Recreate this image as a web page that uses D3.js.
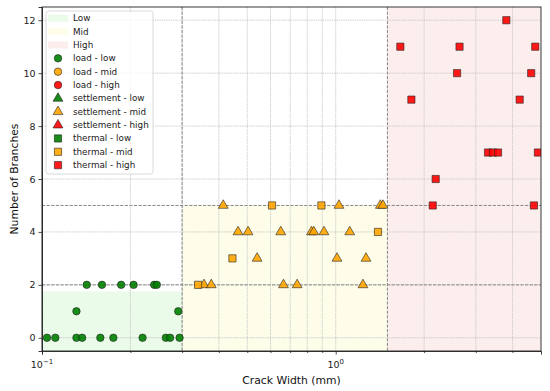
<!DOCTYPE html>
<html>
<head>
<meta charset="utf-8">
<script src="https://cdn.jsdelivr.net/npm/d3@7"></script>
<style>
  body { margin: 0; background: #fff; }
  svg { display: block; font-family: "DejaVu Sans", sans-serif; }
</style>
</head>
<body>
<svg id="chart" width="550" height="391"></svg>
<script>
// crack widths (mm) and branch counts
var loadLowX = [0.104, 0.111, 0.131, 0.137, 0.158, 0.175, 0.220, 0.264, 0.273, 0.294,
                0.131, 0.291,
                0.142, 0.160, 0.186, 0.205, 0.241, 0.246];
var loadLowY = [0, 0, 0, 0, 0, 0, 0, 0, 0, 0,
                1, 1,
                2, 2, 2, 2, 2, 2];

var settlementMidX = [0.414, 1.026, 1.419, 1.448,
                      0.465, 0.503, 0.650, 0.827, 0.842, 0.912, 1.116,
                      0.540, 1.010, 1.268,
                      0.356, 0.377, 0.664, 0.739, 1.238];
var settlementMidY = [5, 5, 5, 5,
                      4, 4, 4, 4, 4, 4, 4,
                      3, 3, 3,
                      2, 2, 2, 2, 2];

var thermalMidX = [0.607, 0.894, 1.393, 0.445, 0.340];
var thermalMidY = [5, 5, 4, 3, 2];

var thermalHighX = [3.81, 1.66, 2.64, 4.78, 2.59, 4.63, 1.81, 4.23,
                    3.30, 3.43, 3.57, 4.88, 2.19, 2.14, 4.73];
var thermalHighY = [12, 11, 11, 11, 10, 10, 9, 9,
                    7, 7, 7, 7, 6, 5, 5];

var emptyX = [], emptyY = [];

// zones: name, x range, top of band
var zoneNames = ["Low", "Mid", "High"];
var zoneX0 = [0.1, 0.3, 1.5];
var zoneX1 = [0.3, 1.5, 5];
var zoneTop = [1.75, 5, 12.5];
var zoneColors = ["#eafbea", "#fdfdea", "#fdeeee"];

var thresholdX = [0.3, 1.5];
var thresholdY = [2, 5];

var yTicks = [0, 2, 4, 6, 8, 10, 12];
var xMajor = [0.1, 1];
var xMajorExp = ["\u22121", "0"];
var xMinor = [0.2, 0.3, 0.4, 0.5, 0.6, 0.7, 0.8, 0.9, 2, 3, 4];

var series = [
    {label: "load - low", shape: d3.symbolCircle, color: "green", xs: loadLowX, ys: loadLowY},
    {label: "load - mid", shape: d3.symbolCircle, color: "orange", xs: emptyX, ys: emptyY},
    {label: "load - high", shape: d3.symbolCircle, color: "red", xs: emptyX, ys: emptyY},
    {label: "settlement - low", shape: d3.symbolTriangle, color: "green", xs: emptyX, ys: emptyY},
    {label: "settlement - mid", shape: d3.symbolTriangle, color: "orange", xs: settlementMidX, ys: settlementMidY},
    {label: "settlement - high", shape: d3.symbolTriangle, color: "red", xs: emptyX, ys: emptyY},
    {label: "thermal - low", shape: d3.symbolSquare, color: "green", xs: emptyX, ys: emptyY},
    {label: "thermal - mid", shape: d3.symbolSquare, color: "orange", xs: thermalMidX, ys: thermalMidY},
    {label: "thermal - high", shape: d3.symbolSquare, color: "red", xs: thermalHighX, ys: thermalHighY}
];

function symbolSize(shape) {
    if (shape === d3.symbolCircle) return 44;
    if (shape === d3.symbolSquare) return 52;
    return 42;
}

var svg = d3.select("#chart");
var margin = {top: 7, right: 9, bottom: 40, left: 42};
var width = 550 - margin.left - margin.right,
    height = 391 - margin.top - margin.bottom;

var x = d3.scaleLog().domain([0.1, 5]).range([0, width]);
var y = d3.scaleLinear().domain([-0.5, 12.5]).range([height, 0]);

var g = svg.append("g").attr("transform", "translate(" + margin.left + "," + margin.top + ")");

svg.append("defs").append("clipPath").attr("id", "plotclip")
    .append("rect").attr("width", width).attr("height", height);

// zone bands
g.selectAll("rect.zone")
    .data(zoneNames)
    .enter().append("rect")
    .attr("class", "zone")
    .attr("x", function (d, i) { return x(zoneX0[i]); })
    .attr("width", function (d, i) { return x(zoneX1[i]) - x(zoneX0[i]); })
    .attr("y", function (d, i) { return y(zoneTop[i]); })
    .attr("height", function (d, i) { return height - y(zoneTop[i]); })
    .attr("fill", function (d, i) { return zoneColors[i]; });

// grid, major and minor (faint, dotted)
g.append("g").selectAll("line")
    .data(xMajor.concat(xMinor))
    .enter().append("line")
    .attr("x1", function (d) { return x(d); })
    .attr("x2", function (d) { return x(d); })
    .attr("y1", 0).attr("y2", height)
    .attr("stroke", "#c4c4c4").attr("stroke-width", 0.8)
    .attr("stroke-dasharray", "1.5,0.8");

g.append("g").selectAll("line")
    .data(yTicks)
    .enter().append("line")
    .attr("x1", 0).attr("x2", width)
    .attr("y1", function (d) { return y(d); })
    .attr("y2", function (d) { return y(d); })
    .attr("stroke", "#c4c4c4").attr("stroke-width", 0.8)
    .attr("stroke-dasharray", "1.5,0.8");

// threshold lines
g.append("g").selectAll("line")
    .data(thresholdX)
    .enter().append("line")
    .attr("x1", function (d) { return x(d); })
    .attr("x2", function (d) { return x(d); })
    .attr("y1", 0).attr("y2", height)
    .attr("stroke", "#888").attr("stroke-width", 1)
    .attr("stroke-dasharray", "3.2,1.4");

g.append("g").selectAll("line")
    .data(thresholdY)
    .enter().append("line")
    .attr("x1", 0).attr("x2", width)
    .attr("y1", function (d) { return y(d); })
    .attr("y2", function (d) { return y(d); })
    .attr("stroke", "#888").attr("stroke-width", 1)
    .attr("stroke-dasharray", "3.2,1.4");

// points
var pts = g.append("g").attr("clip-path", "url(#plotclip)");
series.forEach(function (s) {
    var sym = d3.symbol().type(s.shape).size(symbolSize(s.shape));
    pts.selectAll(null)
        .data(s.xs.map(function (v, i) { return {x: v, y: s.ys[i]}; }))
        .enter().append("path")
        .attr("d", sym)
        .attr("transform", function (d) { return "translate(" + x(d.x) + "," + y(d.y) + ")"; })
        .attr("fill", s.color)
        .attr("fill-opacity", 0.9)
        .attr("stroke", "#222")
        .attr("stroke-width", 0.6);
});

// axes
var xAxis = g.append("g")
    .attr("transform", "translate(0," + height + ")")
    .call(d3.axisBottom(x).tickValues(xMajor).tickSize(3.5).tickFormat(""));
var xAxisMinor = g.append("g")
    .attr("transform", "translate(0," + height + ")")
    .call(d3.axisBottom(x).tickValues(xMinor).tickSize(2).tickFormat(""));
xAxisMinor.select(".domain").remove();

var yAxis = g.append("g")
    .call(d3.axisLeft(y).tickValues(yTicks).tickSize(3.5).tickPadding(3));
yAxis.selectAll("text").attr("font-size", 9.5).attr("fill", "#222")
    .attr("font-family", "DejaVu Sans");

[xAxis, xAxisMinor, yAxis].forEach(function (a) {
    a.select(".domain").attr("stroke", "#222").attr("stroke-width", 0.9);
    a.selectAll(".tick line").attr("stroke", "#222").attr("stroke-width", 0.8);
});

// x tick labels as powers of ten
var xt = g.append("g").selectAll("text")
    .data(xMajor)
    .enter().append("text")
    .attr("x", function (d) { return x(d); })
    .attr("y", height + 17)
    .attr("text-anchor", "middle")
    .attr("font-size", 9.5)
    .attr("fill", "#222");
xt.append("tspan").text("10");
xt.append("tspan")
    .attr("dy", -4).attr("font-size", 7)
    .text(function (d, i) { return xMajorExp[i]; });

// top and right spines
g.append("rect").attr("width", width).attr("height", height)
    .attr("fill", "none").attr("stroke", "#222").attr("stroke-width", 0.9);

// axis labels
g.append("text")
    .attr("x", width / 2).attr("y", height + 33)
    .attr("text-anchor", "middle")
    .attr("font-size", 10.8).attr("fill", "#111")
    .text("Crack Width (mm)");

svg.append("text")
    .attr("transform", "translate(14," + (margin.top + height / 2) + ") rotate(-90)")
    .attr("text-anchor", "middle")
    .attr("dominant-baseline", "central")
    .attr("font-size", 10.8).attr("fill", "#111")
    .text("Number of Branches");

// legend
var legend = svg.append("g");
legend.append("rect")
    .attr("x", 46).attr("y", 11).attr("width", 107).attr("height", 163)
    .attr("rx", 2.5)
    .attr("fill", "#fff").attr("fill-opacity", 0.8)
    .attr("stroke", "#d0d0d0").attr("stroke-width", 0.8);

var rowY = function (i) { return 18.3 + i * 13.35; };

zoneNames.forEach(function (name, i) {
    legend.append("rect")
        .attr("x", 48).attr("y", rowY(i) - 3.5).attr("width", 20).attr("height", 7)
        .attr("fill", zoneColors[i]);
    legend.append("text")
        .attr("x", 73).attr("y", rowY(i))
        .attr("dominant-baseline", "central")
        .attr("font-size", 8.8).attr("fill", "#222")
        .text(name);
});

series.forEach(function (s, j) {
    var i = j + 3;
    legend.append("path")
        .attr("d", d3.symbol().type(s.shape).size(symbolSize(s.shape)))
        .attr("transform", "translate(58," + rowY(i) + ")")
        .attr("fill", s.color).attr("fill-opacity", 0.9)
        .attr("stroke", "#222").attr("stroke-width", 0.6);
    legend.append("text")
        .attr("x", 73).attr("y", rowY(i))
        .attr("dominant-baseline", "central")
        .attr("font-size", 8.8).attr("fill", "#222")
        .text(s.label);
});
</script>
</body>
</html>
